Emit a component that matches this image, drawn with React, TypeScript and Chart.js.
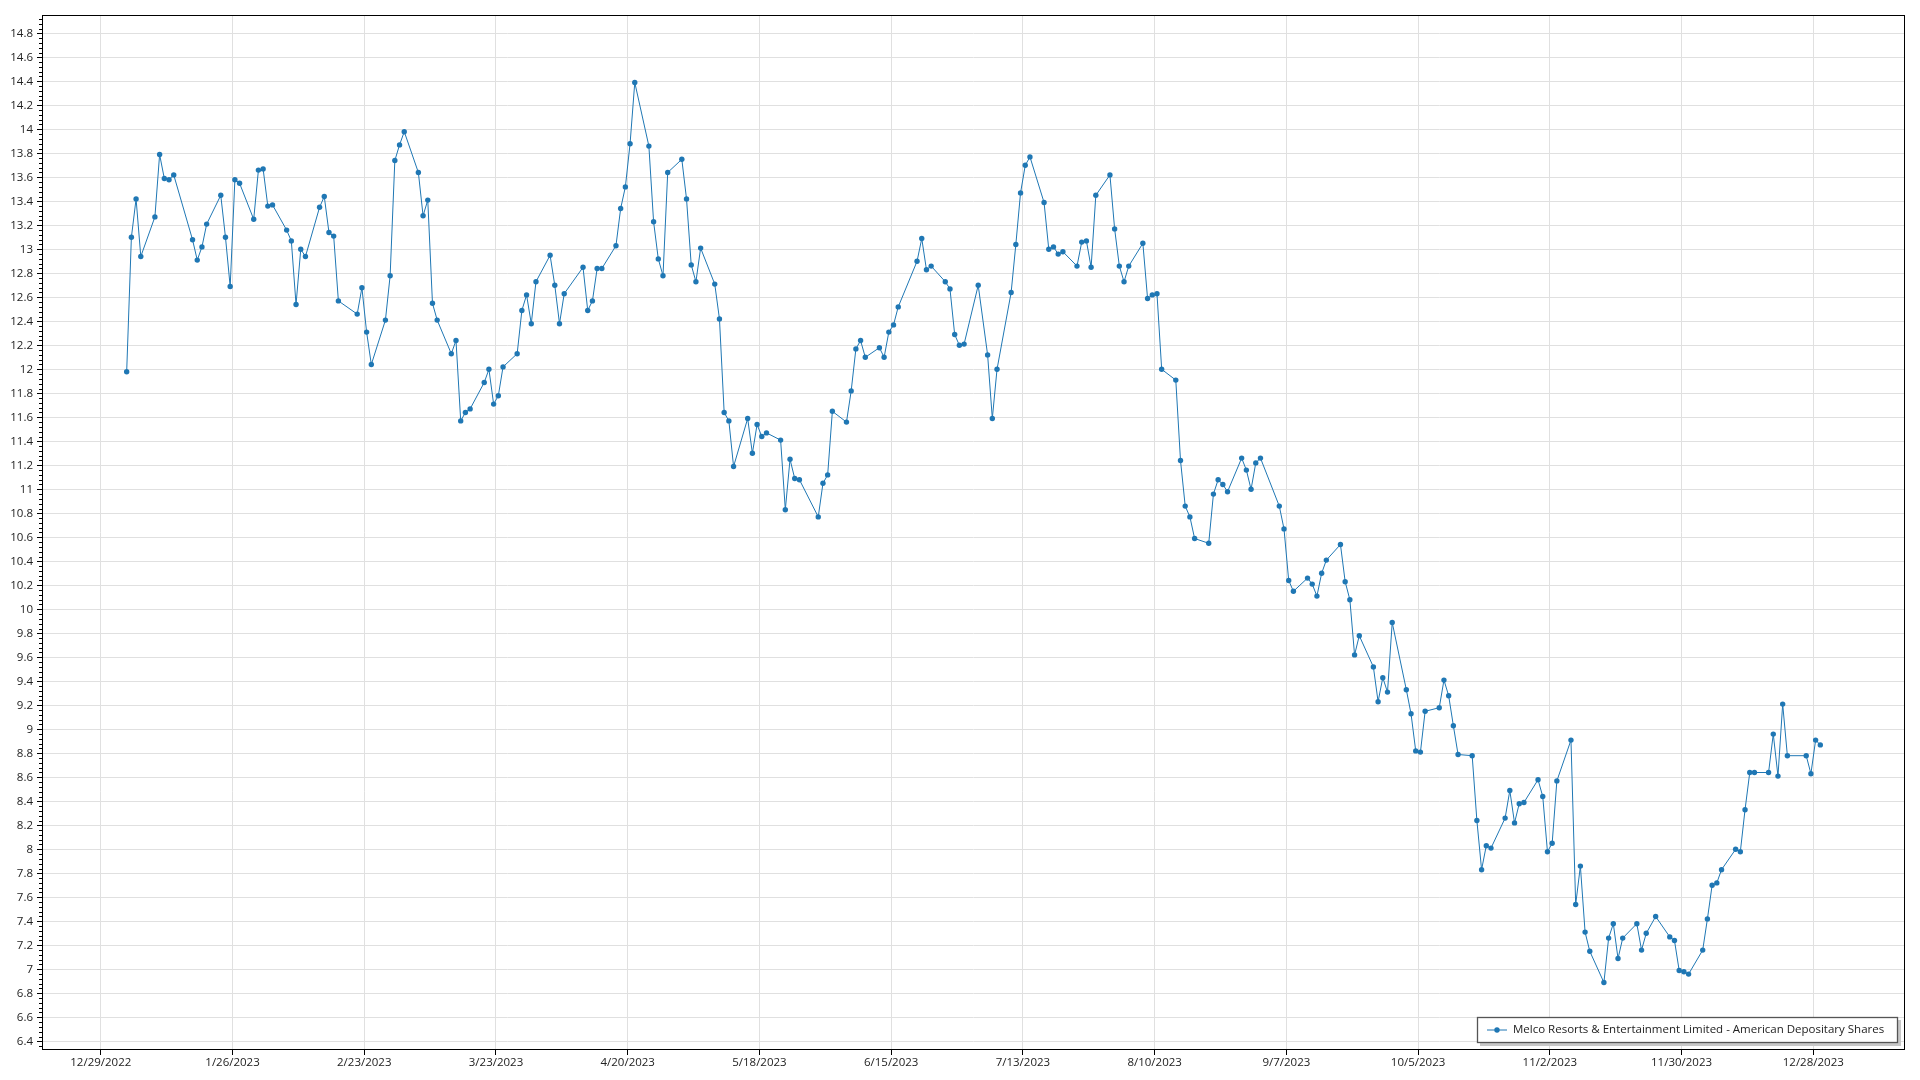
import React, { useEffect, useRef } from 'react';
import { Chart, registerables } from 'chart.js';

Chart.register(...registerables);

const SERIES_LABEL = 'Melco Resorts & Entertainment Limited - American Depositary Shares';
const DATA_YEAR = 2023;

// Trading days of 2023 (M/D)
const tradeDates: string[] = [
  '1/3','1/4','1/5','1/6','1/9','1/10','1/11','1/12','1/13','1/17','1/18','1/19','1/20','1/23','1/24','1/25','1/26','1/27','1/30','1/31',
  '2/1','2/2','2/3','2/6','2/7','2/8','2/9','2/10','2/13','2/14','2/15','2/16','2/17','2/21','2/22','2/23','2/24','2/27','2/28',
  '3/1','3/2','3/3','3/6','3/7','3/8','3/9','3/10','3/13','3/14','3/15','3/16','3/17','3/20','3/21','3/22','3/23','3/24','3/27','3/28','3/29','3/30','3/31',
  '4/3','4/4','4/5','4/6','4/10','4/11','4/12','4/13','4/14','4/17','4/18','4/19','4/20','4/21','4/24','4/25','4/26','4/27','4/28',
  '5/1','5/2','5/3','5/4','5/5','5/8','5/9','5/10','5/11','5/12','5/15','5/16','5/17','5/18','5/19','5/22','5/23','5/24','5/25','5/26','5/30','5/31',
  '6/1','6/2','6/5','6/6','6/7','6/8','6/9','6/12','6/13','6/14','6/15','6/16','6/20','6/21','6/22','6/23','6/26','6/27','6/28','6/29','6/30',
  '7/3','7/5','7/6','7/7','7/10','7/11','7/12','7/13','7/14','7/17','7/18','7/19','7/20','7/21','7/24','7/25','7/26','7/27','7/28','7/31',
  '8/1','8/2','8/3','8/4','8/7','8/8','8/9','8/10','8/11','8/14','8/15','8/16','8/17','8/18','8/21','8/22','8/23','8/24','8/25','8/28','8/29','8/30','8/31',
  '9/1','9/5','9/6','9/7','9/8','9/11','9/12','9/13','9/14','9/15','9/18','9/19','9/20','9/21','9/22','9/25','9/26','9/27','9/28','9/29',
  '10/2','10/3','10/4','10/5','10/6','10/9','10/10','10/11','10/12','10/13','10/16','10/17','10/18','10/19','10/20','10/23','10/24','10/25','10/26','10/27','10/30','10/31',
  '11/1','11/2','11/3','11/6','11/7','11/8','11/9','11/10','11/13','11/14','11/15','11/16','11/17','11/20','11/21','11/22','11/24','11/27','11/28','11/29','11/30',
  '12/1','12/4','12/5','12/6','12/7','12/8','12/11','12/12','12/13','12/14','12/15','12/18','12/19','12/20','12/21','12/22','12/26','12/27','12/28','12/29',
];

const closePrices: number[] = [
  11.98, 13.10, 13.42, 12.94, 13.27, 13.79, 13.59, 13.58, 13.62, 13.08, 12.91, 13.02, 13.21, 13.45, 13.10, 12.69, 13.58, 13.55, 13.25, 13.66,
  13.67, 13.36, 13.37, 13.16, 13.07, 12.54, 13.00, 12.94, 13.35, 13.44, 13.14, 13.11, 12.57, 12.46, 12.68, 12.31, 12.04, 12.41, 12.78,
  13.74, 13.87, 13.98, 13.64, 13.28, 13.41, 12.55, 12.41, 12.13, 12.24, 11.57, 11.64, 11.67, 11.89, 12.00, 11.71, 11.78, 12.02, 12.13, 12.49, 12.62, 12.38, 12.73,
  12.95, 12.70, 12.38, 12.63, 12.85, 12.49, 12.57, 12.84, 12.84, 13.03, 13.34, 13.52, 13.88, 14.39, 13.86, 13.23, 12.92, 12.78, 13.64,
  13.75, 13.42, 12.87, 12.73, 13.01, 12.71, 12.42, 11.64, 11.57, 11.19, 11.59, 11.30, 11.54, 11.44, 11.47, 11.41, 10.83, 11.25, 11.09, 11.08, 10.77, 11.05,
  11.12, 11.65, 11.56, 11.82, 12.17, 12.24, 12.10, 12.18, 12.10, 12.31, 12.37, 12.52, 12.90, 13.09, 12.83, 12.86, 12.73, 12.67, 12.29, 12.20, 12.21,
  12.70, 12.12, 11.59, 12.00, 12.64, 13.04, 13.47, 13.70, 13.77, 13.39, 13.00, 13.02, 12.96, 12.98, 12.86, 13.06, 13.07, 12.85, 13.45, 13.62,
  13.17, 12.86, 12.73, 12.86, 13.05, 12.59, 12.62, 12.63, 12.00, 11.91, 11.24, 10.86, 10.77, 10.59, 10.55, 10.96, 11.08, 11.04, 10.98, 11.26, 11.16, 11.00, 11.22,
  11.26, 10.86, 10.67, 10.24, 10.15, 10.26, 10.21, 10.11, 10.30, 10.41, 10.54, 10.23, 10.08, 9.62, 9.78, 9.52, 9.23, 9.43, 9.31, 9.89,
  9.33, 9.13, 8.82, 8.81, 9.15, 9.18, 9.41, 9.28, 9.03, 8.79, 8.78, 8.24, 7.83, 8.03, 8.01, 8.26, 8.49, 8.22, 8.38, 8.39, 8.58, 8.44,
  7.98, 8.05, 8.57, 8.91, 7.54, 7.86, 7.31, 7.15, 6.89, 7.26, 7.38, 7.09, 7.26, 7.38, 7.16, 7.30, 7.44, 7.27, 7.24, 6.99, 6.98,
  6.96, 7.16, 7.42, 7.70, 7.72, 7.83, 8.00, 7.98, 8.33, 8.64, 8.64, 8.64, 8.96, 8.61, 9.21, 8.78, 8.78, 8.63, 8.91, 8.87,
];

const xTickLabels: string[] = [
  '12/29/2022', '1/26/2023', '2/23/2023', '3/23/2023', '4/20/2023', '5/18/2023', '6/15/2023',
  '7/13/2023', '8/10/2023', '9/7/2023', '10/5/2023', '11/2/2023', '11/30/2023', '12/28/2023',
];

const yTickLabels: string[] = [
  '6.4', '6.6', '6.8', '7', '7.2', '7.4', '7.6', '7.8', '8', '8.2', '8.4', '8.6', '8.8', '9', '9.2', '9.4',
  '9.6', '9.8', '10', '10.2', '10.4', '10.6', '10.8', '11', '11.2', '11.4', '11.6', '11.8', '12', '12.2',
  '12.4', '12.6', '12.8', '13', '13.2', '13.4', '13.6', '13.8', '14', '14.2', '14.4', '14.6', '14.8',
];

const Y_MIN = 6.3275;
const Y_MAX = 14.9525;
const MINOR_STEP = 0.04;

const FONT_FAMILY = '"Open Sans", "Noto Sans", sans-serif';
const FONT_SIZE = 11.5;
const BLUE = '#1f77b4';
const GRID = '#e0e0e0';
const TEXT = '#222222';
const POINT_R = 2.7;

function toDay(s: string, defaultYear?: number): number {
  const p = s.split('/').map(Number);
  const y = p.length > 2 ? p[2] : (defaultYear as number);
  return Date.UTC(y, p[0] - 1, p[1]) / 86400000;
}

const overlayPlugin = {
  id: 'overlay',
  afterDraw(chart: any) {
    const { ctx, chartArea: a, scales } = chart;
    const ys = scales.y;
    ctx.save();
    // minor ticks on the value axis
    ctx.strokeStyle = '#000';
    ctx.lineWidth = 1;
    ctx.beginPath();
    for (let k = Math.ceil(ys.min / MINOR_STEP); k * MINOR_STEP <= ys.max + 1e-9; k++) {
      if (k % 5 === 0) continue;
      const py = Math.round(ys.getPixelForValue(k * MINOR_STEP)) + 0.5;
      ctx.moveTo(a.left - 3, py);
      ctx.lineTo(a.left, py);
    }
    ctx.stroke();
    // frame
    ctx.strokeStyle = '#000';
    ctx.lineWidth = 1;
    ctx.strokeRect(Math.round(a.left) + 0.5, Math.round(a.top) + 0.5,
      Math.round(a.right - a.left) - 1, Math.round(a.bottom - a.top) - 1);

    // legend box
    const label = chart.data.datasets[0].label as string;
    ctx.font = `${FONT_SIZE}px ${FONT_FAMILY}`;
    const tw = ctx.measureText(label).width;
    const boxW = Math.round(36 + tw + 14);
    const boxH = 26;
    const x1 = Math.round(a.right - 7 - boxW);
    const y1 = Math.round(a.bottom - 7 - boxH);
    ctx.fillStyle = '#c8c8c8';
    ctx.fillRect(x1 + 3, y1 + 3, boxW, boxH);
    ctx.fillStyle = '#ffffff';
    ctx.fillRect(x1, y1, boxW, boxH);
    ctx.strokeStyle = '#555555';
    ctx.lineWidth = 1.3;
    ctx.strokeRect(x1 + 0.5, y1 + 0.5, boxW - 1, boxH - 1);
    const cy = y1 + boxH / 2;
    ctx.strokeStyle = BLUE;
    ctx.lineWidth = 1;
    ctx.beginPath();
    ctx.moveTo(x1 + 10, cy);
    ctx.lineTo(x1 + 30, cy);
    ctx.stroke();
    ctx.fillStyle = BLUE;
    ctx.beginPath();
    ctx.arc(x1 + 20, cy, POINT_R, 0, Math.PI * 2);
    ctx.fill();
    ctx.fillStyle = TEXT;
    ctx.textBaseline = 'middle';
    ctx.textAlign = 'left';
    ctx.fillText(label, x1 + 36, cy);
    ctx.restore();
  },
};

export default function App() {
  const canvasRef = useRef<HTMLCanvasElement | null>(null);

  useEffect(() => {
    const canvas = canvasRef.current;
    if (!canvas) return;
    const points = tradeDates.map((d, i) => ({ x: toDay(d, DATA_YEAR) + 0.5, y: closePrices[i] }));
    const xs = points.map((p) => p.x);
    const first = Math.min(...xs);
    const last = Math.max(...xs);
    const pad = (last - first) * 0.05;
    const xTickValues = xTickLabels.map((s) => toDay(s));
    const yTickValues = yTickLabels.map(Number);
    const font = { family: FONT_FAMILY, size: FONT_SIZE };

    const chart = new Chart(canvas, {
      type: 'line',
      data: {
        datasets: [
          {
            label: SERIES_LABEL,
            data: points,
            borderColor: BLUE,
            backgroundColor: BLUE,
            borderWidth: 1,
            pointRadius: POINT_R,
            pointHoverRadius: POINT_R,
            pointBorderWidth: 0,
            pointBackgroundColor: BLUE,
            tension: 0,
            fill: false,
          },
        ],
      },
      options: {
        animation: false,
        responsive: true,
        maintainAspectRatio: false,
        layout: { padding: { top: 15, right: 15, bottom: 0, left: 0 } },
        plugins: { legend: { display: false }, tooltip: { enabled: false } },
        scales: {
          x: {
            type: 'linear',
            min: first - pad,
            max: last + pad,
            afterBuildTicks: (axis: any) => {
              axis.ticks = xTickValues.map((v) => ({ value: v }));
            },
            afterFit: (axis: any) => {
              axis.height = 30;
            },
            grid: { color: GRID, tickColor: '#000', tickLength: 5, drawTicks: true },
            border: { display: false },
            ticks: {
              autoSkip: false,
              maxRotation: 0,
              padding: 1,
              color: TEXT,
              font,
              callback: (_v: any, idx: number) => xTickLabels[idx],
            },
          },
          y: {
            type: 'linear',
            min: Y_MIN,
            max: Y_MAX,
            afterBuildTicks: (axis: any) => {
              axis.ticks = yTickValues.map((v) => ({ value: v }));
            },
            afterFit: (axis: any) => {
              axis.width = 42;
            },
            grid: { color: GRID, tickColor: '#000', tickLength: 5, drawTicks: true },
            border: { display: false },
            ticks: {
              autoSkip: false,
              padding: 4,
              color: TEXT,
              font,
              callback: (_v: any, idx: number) => yTickLabels[idx],
            },
          },
        },
      },
      plugins: [overlayPlugin],
    } as any);

    return () => chart.destroy();
  }, []);

  return (
    <div style={{ position: 'fixed', left: 0, top: 0, width: 1920, height: 1080, background: '#fff' }}>
      <canvas ref={canvasRef} />
    </div>
  );
}
